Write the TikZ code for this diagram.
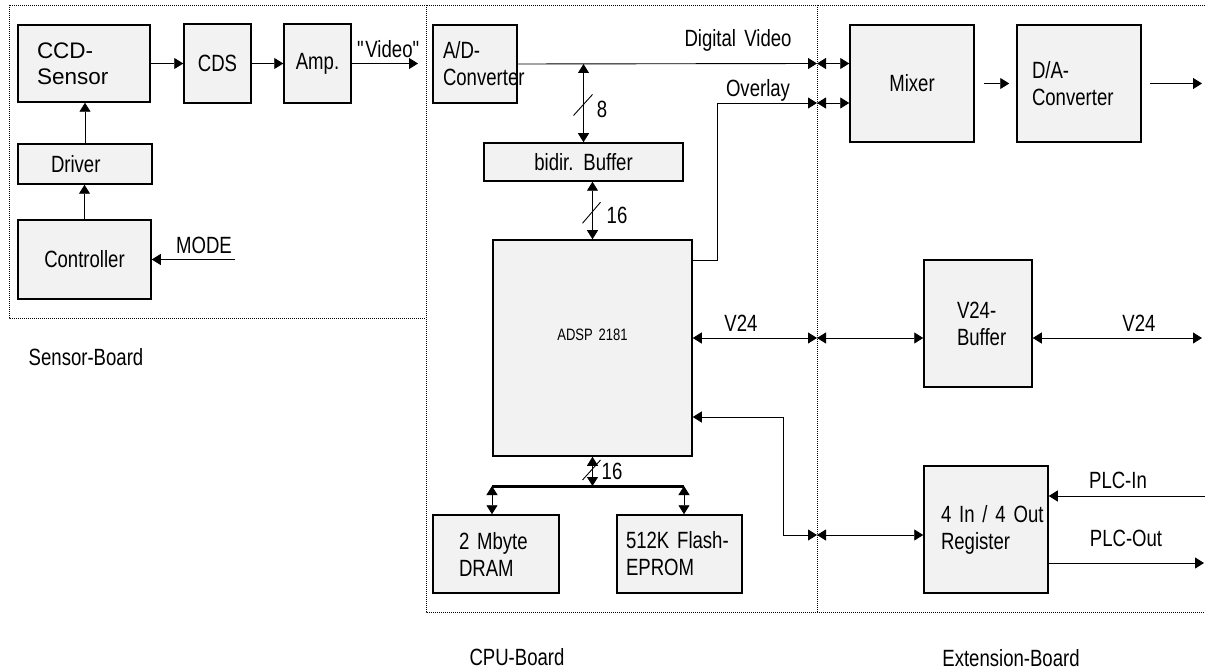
\documentclass[tikz,border=0pt]{standalone}
\usepackage{fontspec}
\setmainfont{Liberation Sans}[FakeStretch=0.79, WordSpace=1.6]
\newfontfamily\widefont{Liberation Sans}
\usetikzlibrary{arrows.meta, calc}
\tikzset{
  block/.style={draw, fill=gray!10, line width=1.5pt, inner sep=0pt, align=center, font=\fontsize{23.5}{27}\selectfont},
  lblock/.style={block, align=left, text width=#1},
  board/.style={draw, line width=0.9pt, dash pattern=on 1pt off 1pt},
  wire/.style={line width=0.9pt},
  sig/.style={wire, -{Triangle[length=9pt, width=11pt]}},
  bisig/.style={wire, {Triangle[length=9pt, width=11pt]}-{Triangle[length=9pt, width=11pt]}},
  lbl/.style={inner sep=0pt, font=\fontsize{23.5}{27}\selectfont}
}

\begin{document}
\begin{tikzpicture}[x=1pt, y=-1pt]
        \useasboundingbox (0,0) rectangle (1205,671);

        % Boards
        \draw[board] (9,5) rectangle (426,318);
        \draw[board] (426,5) rectangle (817,612);
        \draw[board] (1205,5) -- (817,5) (817,612) -- (1205,612);
        \node[lbl] (sensorlbl) at (86,357) {Sensor-Board};
        \node[lbl] (cpulbl)    at (517,657) {CPU-Board};
        \node[lbl] (extlbl)    at (1011,658) {Extension-Board};

        % Sensor board
        \node[lblock=94pt, minimum width=132, minimum height=77, font=\widefont\fontsize{22.5}{26}\selectfont] (ccd) at (84,63.5) {CCD-\\Sensor};
        \node[block, minimum width=67, minimum height=79] (cds) at (217.5,63.5) {CDS};
        \node[block, minimum width=67, minimum height=79] (amp) at (317.5,63.5) {Amp.};
        \node[lblock=68pt, minimum width=134, minimum height=40] (driver) at (85,164) {Driver};
        \node[block, minimum width=133, minimum height=79] (ctrl) at (84.5,259.5) {Controller};

        % CPU board
        \node[lblock=64pt, minimum width=84, minimum height=78] (adc) at (475,64) {A/D-\\Converter};
        \node[block, minimum width=199, minimum height=38] (buf) at (583.5,162) {bidir. Buffer};
        \node[block, minimum width=199, minimum height=216, text depth=26pt, font=\fontsize{16.5}{19}\selectfont] (dsp) at (592.5,348) {ADSP 2181};
        \node[lblock=74pt, minimum width=126, minimum height=78] (dram) at (496,554) {2 Mbyte\\DRAM};
        \node[lblock=107pt, minimum width=125, minimum height=78] (flash) at (679.5,554) {\mbox{512K Flash-}\\EPROM};

        % Extension board
        \node[block, minimum width=124, minimum height=117] (mixer) at (912,83.5) {Mixer};
        \node[lblock=94pt, minimum width=124, minimum height=117] (dac) at (1079,83.5) {D/A-\\Converter};
        \node[lblock=42pt, minimum width=108, minimum height=127] (vbuf) at (978,323.5) {V24-\\Buffer};
        \node[lblock=90pt, minimum width=124, minimum height=127] (reg) at (986,529.5) {\mbox{4 In / 4 Out}\\Register};

        % Connector points
        \coordinate (vidout) at (418,63.5);
        \coordinate (modein) at (235,259.5);
        \coordinate (dvx) at (817,63.5);
        \coordinate (ovx) at (817,103);
        \coordinate (ovbend) at (717,260);
        \coordinate (v24x) at (817,338);
        \coordinate (regx) at (817,535);
        \coordinate (regbend) at (783,417);
        \coordinate (dacout) at (1202,83.5);
        \coordinate (v24out) at (1202,338);
        \coordinate (plcin) at (1205,496);
        \coordinate (plcout) at (1204,563);
        \coordinate (busL) at (492,486);
        \coordinate (busR) at (684,486);
        \coordinate (busM) at (592.5,486);

        % Sensor links
        \draw[sig] (ccd.east) -- (cds.west);
        \draw[sig] (cds.east) -- (amp.west);
        \draw[sig] (amp.east) -- (vidout);
        \draw[sig] (driver.north) -- (driver.north |- ccd.south);
        \draw[sig] (ctrl.north) -- (ctrl.north |- driver.south);
        \draw[sig] (modein) -- (ctrl.east);
        \node[lbl] (videolbl) at (389,49) {\textquotedbl Video\textquotedbl};
        \node[lbl] (modelbl) at (204,245) {MODE};

        % Video path
        \draw[sig] (adc.east) -- (dvx);
        \draw[bisig] (dvx) -- (dvx -| mixer.west);
        \draw[sig] (ovbend -| dsp.east) -- (ovbend) |- (ovx);
        \draw[bisig] (ovx) -- (ovx -| mixer.west);
        \draw[sig, shorten <=9pt, shorten >=7pt] (mixer.east) -- (dac.west);
        \draw[sig, shorten <=8pt] (dac.east) -- (dacout);
        \node[lbl] (dvlbl) at (738,40) {Digital Video};
        \node[lbl] (ovlbl) at (758,90) {Overlay};

        % Buses
        \draw[bisig] (buf.north |- adc.east) -- (buf.north);
        \draw[wire] ($(buf.north |- adc.east)+(-10,51.5)$) -- +(19,-21);
        \node[lbl] (bus8lbl) at (602,109) {8};
        \draw[bisig] (dsp.north |- buf.south) -- (dsp.north);
        \draw[wire] ($(dsp.north)+(-10,-16)$) -- +(18,-21);
        \node[lbl] (bus16lbl) at (617,215) {16};
        \draw[bisig] (dsp.south) -- (busM);
        \draw[line width=3pt] (busL) -- (busR);
        \draw[wire] ($(busM)+(-10,-6)$) -- +(18,-20);
        \node[lbl] (memlbl) at (612,471) {16};
        \draw[bisig] (busL) -- (busL |- dram.north);
        \draw[bisig] (busR) -- (busR |- flash.north);

        % Serial and I/O
        \draw[bisig] (v24x -| dsp.east) -- (v24x);
        \draw[bisig] (v24x) -- (v24x -| vbuf.west);
        \draw[bisig] (v24x -| vbuf.east) -- (v24out);
        \node[lbl] (v24lbl) at (741,323) {V24};
        \node[lbl] (v24outlbl) at (1139,323) {V24};
        \draw[bisig] (regbend -| dsp.east) -- (regbend) |- (regx);
        \draw[bisig] (regx) -- (regx -| reg.west);
        \draw[sig] (plcin) -- (plcin -| reg.east);
        \draw[sig] (plcout -| reg.east) -- (plcout);
        \node[lbl] (plcinlbl) at (1118,480) {PLC-In};
        \node[lbl] (plcoutlbl) at (1126,538) {PLC-Out};
\end{tikzpicture}
\end{document}
